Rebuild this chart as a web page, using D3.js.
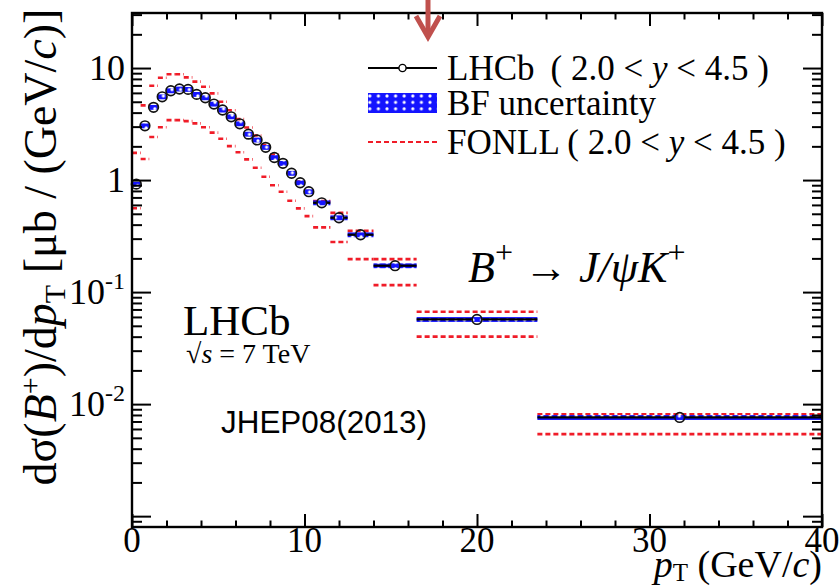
<!DOCTYPE html>
<html>
<head>
<meta charset="utf-8">
<script src="https://cdn.jsdelivr.net/npm/d3@7/dist/d3.min.js"></script>
<style>
  body { margin: 0; background: #fff; }
  svg text { fill: #000; }
</style>
</head>
<body>
<svg id="chart" width="840" height="587"></svg>
<script>
// pT bin edges (GeV/c)
const ptLow  = [0, 0.5, 1, 1.5, 2, 2.5, 3, 3.5, 4, 4.5, 5, 5.5, 6, 6.5, 7, 7.5, 8, 8.5, 9, 9.5, 10, 10.5, 11.5, 12.5, 14, 16.5, 23.5];
const ptHigh = [0.5, 1, 1.5, 2, 2.5, 3, 3.5, 4, 4.5, 5, 5.5, 6, 6.5, 7, 7.5, 8, 8.5, 9, 9.5, 10, 10.5, 11.5, 12.5, 14, 16.5, 23.5, 40];

// measured dσ/dpT (μb/(GeV/c))
const sigma = [0.92, 3.05, 4.46, 5.54, 6.27, 6.5, 6.45, 5.82, 5.43, 4.77, 4.22, 3.67, 3.18, 2.57, 2.28, 1.96, 1.59, 1.41, 1.15, 0.946, 0.787, 0.627, 0.461, 0.325, 0.172, 0.057, 0.0076];

// FONLL band edges
const fonllUpper = [1.75, 4.64, 6.95, 8.19, 8.79, 8.79, 8.26, 7.57, 6.81, 5.94, 5.0, 4.2, 3.5, 2.95, 2.5, 2.05, 1.69, 1.39, 1.16, 0.97, 0.80, 0.65, 0.51, 0.352, 0.197, 0.0667, 0.0081];
const fonllLower = [0.56, 1.54, 2.42, 2.96, 3.43, 3.43, 3.36, 3.21, 2.96, 2.65, 2.34, 2.01, 1.77, 1.53, 1.29, 1.07, 0.90, 0.787, 0.653, 0.559, 0.477, 0.378, 0.28, 0.197, 0.1155, 0.040, 0.0054];

// relative branching-fraction uncertainty
const bfRelUnc = 0.05;

// axis ticks and labels
const xMajorTicks = [0, 10, 20, 30, 40];
const xMinorStep = 2;
const yMajorTicks = [10, 1, 0.1, 0.01];
const yTickBase = ["10", "1", "10", "10"];
const yTickExp  = ["", "", "-1", "-2"];

const SERIF = "'Liberation Serif', 'Times New Roman', serif";
const SANS = "'Liberation Sans', Arial, sans-serif";

const svg = d3.select("#chart");
const frame = { left: 132, right: 822, top: 13, bottom: 527 };

const x = d3.scaleLinear().domain([0, 40]).range([frame.left, frame.right]);
const y = d3.scaleLog().domain([8e-4, 31]).range([frame.bottom, frame.top]);

function serifText(sel) { return sel.style("font-family", SERIF); }

// dotted blue fill for the BF uncertainty boxes
const defs = svg.append("defs");
const pat = defs.append("pattern").attr("id", "bfDots")
  .attr("patternUnits", "userSpaceOnUse").attr("width", 8.6).attr("height", 6.4);
pat.append("rect").attr("width", 8.6).attr("height", 6.4).attr("fill", "#1414ff");
[[0, 0], [8.6, 0], [0, 6.4], [8.6, 6.4]].forEach(([cx, cy]) =>
  pat.append("circle").attr("cx", cx).attr("cy", cy).attr("r", 1.6).attr("fill", "#fff"));

const bins = sigma.map((v, i) => ({
  lo: ptLow[i], hi: ptHigh[i], v, up: fonllUpper[i], dn: fonllLower[i]
}));

// FONLL prediction: dashed horizontal segments per bin
const fonllColor = "#f01c28";
const gF = svg.append("g");
["up", "dn"].forEach(k => {
  gF.selectAll("line." + k).data(bins).join("line")
    .attr("class", k)
    .attr("x1", d => x(d.lo)).attr("x2", d => x(d.hi))
    .attr("y1", d => y(d[k])).attr("y2", d => y(d[k]))
    .attr("stroke", fonllColor).attr("stroke-width", 2.6)
    .attr("stroke-dasharray", "5,3");
});

// BF uncertainty boxes
svg.append("g").selectAll("rect").data(bins).join("rect")
  .attr("x", d => x(d.lo)).attr("width", d => x(d.hi) - x(d.lo))
  .attr("y", d => y(d.v * (1 + bfRelUnc)))
  .attr("height", d => y(d.v * (1 - bfRelUnc)) - y(d.v * (1 + bfRelUnc)))
  .attr("fill", "url(#bfDots)");

// horizontal bin-width bars, kept outside the marker
const mr = 4.8;
const gE = svg.append("g").attr("stroke", "#000").attr("stroke-width", 2.2);
bins.forEach(d => {
  const cx = x((d.lo + d.hi) / 2), cy = y(d.v);
  if (cx - mr > x(d.lo) + 0.5) {
    gE.append("line").attr("x1", x(d.lo)).attr("x2", cx - mr).attr("y1", cy).attr("y2", cy);
    gE.append("line").attr("x1", cx + mr).attr("x2", x(d.hi)).attr("y1", cy).attr("y2", cy);
  }
});

// open circle markers
svg.append("g").selectAll("circle").data(bins).join("circle")
  .attr("cx", d => x((d.lo + d.hi) / 2)).attr("cy", d => y(d.v))
  .attr("r", mr).attr("fill", "none").attr("stroke", "#111").attr("stroke-width", 1.7);

// axis ticks (pointing into the frame on all four sides)
const xMinor = d3.range(0, 40.001, xMinorStep).filter(v => !xMajorTicks.includes(v));
const yMinor = [];
for (let e = -4; e <= 1; e++) for (let m = 2; m <= 9; m++) {
  const v = m * Math.pow(10, e);
  if (v > y.domain()[0] && v < y.domain()[1]) yMinor.push(v);
}
const yMajorAll = [10, 1, 0.1, 0.01, 0.001].filter(v => v > y.domain()[0] && v < y.domain()[1]);

function tickAxis(axis, transform) {
  const g = svg.append("g").attr("transform", transform).call(axis);
  g.select(".domain").remove();
  g.selectAll("text").remove();
  g.selectAll("line").attr("stroke", "#000").attr("stroke-width", 2);
}
tickAxis(d3.axisBottom(x).tickValues(xMajorTicks).tickSize(-13), `translate(0,${frame.bottom})`);
tickAxis(d3.axisBottom(x).tickValues(xMinor).tickSize(-6.5), `translate(0,${frame.bottom})`);
tickAxis(d3.axisTop(x).tickValues(xMajorTicks).tickSize(-13), `translate(0,${frame.top})`);
tickAxis(d3.axisTop(x).tickValues(xMinor).tickSize(-6.5), `translate(0,${frame.top})`);
tickAxis(d3.axisLeft(y).tickValues(yMajorAll).tickSize(-19), `translate(${frame.left},0)`);
tickAxis(d3.axisLeft(y).tickValues(yMinor).tickSize(-10), `translate(${frame.left},0)`);
tickAxis(d3.axisRight(y).tickValues(yMajorAll).tickSize(-19), `translate(${frame.right},0)`);
tickAxis(d3.axisRight(y).tickValues(yMinor).tickSize(-10), `translate(${frame.right},0)`);

// frame
svg.append("rect")
  .attr("x", frame.left).attr("y", frame.top)
  .attr("width", frame.right - frame.left).attr("height", frame.bottom - frame.top)
  .attr("fill", "none").attr("stroke", "#000").attr("stroke-width", 2.4);

// x tick labels
serifText(svg.append("g").selectAll("text").data(xMajorTicks).join("text"))
  .attr("x", d => x(d)).attr("y", 552).attr("text-anchor", "middle")
  .attr("font-size", 35).text(d => d);

// y tick labels
yMajorTicks.forEach((v, i) => {
  const t = serifText(svg.append("text")).attr("x", 125).attr("y", y(v) + 12)
    .attr("text-anchor", "end").attr("font-size", 36);
  t.append("tspan").text(yTickBase[i]);
  if (yTickExp[i]) t.append("tspan").attr("dy", -15).attr("font-size", 24).text(yTickExp[i]);
});

// axis titles
const yt = serifText(svg.append("text")).attr("transform", "translate(56,247) rotate(-90)")
  .attr("text-anchor", "middle").attr("font-size", 46);
yt.append("tspan").text("dσ(");
yt.append("tspan").attr("font-style", "italic").text("B");
yt.append("tspan").attr("dy", -16).attr("font-size", 30).text("+");
yt.append("tspan").attr("dy", 16).text(")/d");
yt.append("tspan").attr("font-style", "italic").text("p");
yt.append("tspan").attr("dy", 9).attr("font-size", 30).text("T");
yt.append("tspan").attr("dy", -9).text(" [μb / (GeV/");
yt.append("tspan").attr("font-style", "italic").text("c");
yt.append("tspan").text(")]");

const xt = serifText(svg.append("text")).attr("x", 822).attr("y", 577)
  .attr("text-anchor", "end").attr("font-size", 38);
xt.append("tspan").attr("font-style", "italic").text("p");
xt.append("tspan").attr("dy", 4).attr("font-size", 25).text("T");
xt.append("tspan").attr("dy", -4).text(" (GeV/");
xt.append("tspan").attr("font-style", "italic").text("c");
xt.append("tspan").text(")");

// legend
const lg = svg.append("g");
const lx0 = 368, lx1 = 437, ltx = 447;
lg.append("line").attr("x1", lx0).attr("x2", lx1).attr("y1", 68).attr("y2", 68)
  .attr("stroke", "#000").attr("stroke-width", 2);
lg.append("circle").attr("cx", (lx0 + lx1) / 2).attr("cy", 68).attr("r", 3.6)
  .attr("fill", "#fff").attr("stroke", "#000").attr("stroke-width", 1.4);
const l1 = serifText(lg.append("text")).attr("x", ltx).attr("y", 80).attr("font-size", 35);
l1.append("tspan").text("LHCb");
l1.append("tspan").attr("dx", 16).text("( 2.0 < ");
l1.append("tspan").attr("font-style", "italic").text("y");
l1.append("tspan").text(" < 4.5 )");

lg.append("rect").attr("x", lx0).attr("y", 93).attr("width", lx1 - lx0).attr("height", 20)
  .attr("fill", "url(#bfDots)");
serifText(lg.append("text")).attr("x", ltx).attr("y", 115).attr("font-size", 35).text("BF uncertainty");

lg.append("line").attr("x1", lx0).attr("x2", lx1).attr("y1", 142).attr("y2", 142)
  .attr("stroke", fonllColor).attr("stroke-width", 2.2).attr("stroke-dasharray", "5,3");
const l3 = serifText(lg.append("text")).attr("x", ltx).attr("y", 154).attr("font-size", 35);
l3.append("tspan").text("FONLL ( 2.0 < ");
l3.append("tspan").attr("font-style", "italic").text("y");
l3.append("tspan").text(" < 4.5 )");

// experiment label
serifText(svg.append("text")).attr("x", 183).attr("y", 335).attr("font-size", 43).text("LHCb");
const rs = serifText(svg.append("text")).attr("x", 186).attr("y", 363).attr("font-size", 28);
rs.append("tspan").text("√");
rs.append("tspan").attr("font-style", "italic").text("s");
rs.append("tspan").text(" = 7 TeV");

// decay channel
const dc = serifText(svg.append("text")).attr("x", 468).attr("y", 282).attr("font-size", 44)
  .attr("font-style", "italic");
dc.append("tspan").text("B");
dc.append("tspan").attr("dy", -19).attr("font-size", 32).attr("font-style", "normal").text("+");
dc.append("tspan").attr("dy", 19).attr("font-style", "normal").text(" → ");
dc.append("tspan").text("J/ψK");
dc.append("tspan").attr("dy", -19).attr("font-size", 32).attr("font-style", "normal").text("+");

// reference
svg.append("text").attr("x", 221).attr("y", 433).attr("font-size", 32)
  .style("font-family", SANS)
  .attr("textLength", 206).attr("lengthAdjust", "spacingAndGlyphs").text("JHEP08(2013)");

// pointer arrow at the top
const ar = svg.append("g").attr("stroke", "#c0504d").attr("stroke-width", 5)
  .attr("fill", "none").attr("stroke-linecap", "butt");
ar.append("line").attr("x1", 428).attr("x2", 428).attr("y1", 0).attr("y2", 35);
ar.append("polyline").attr("points", "416,16 428,37 440,16");
</script>
</body>
</html>
